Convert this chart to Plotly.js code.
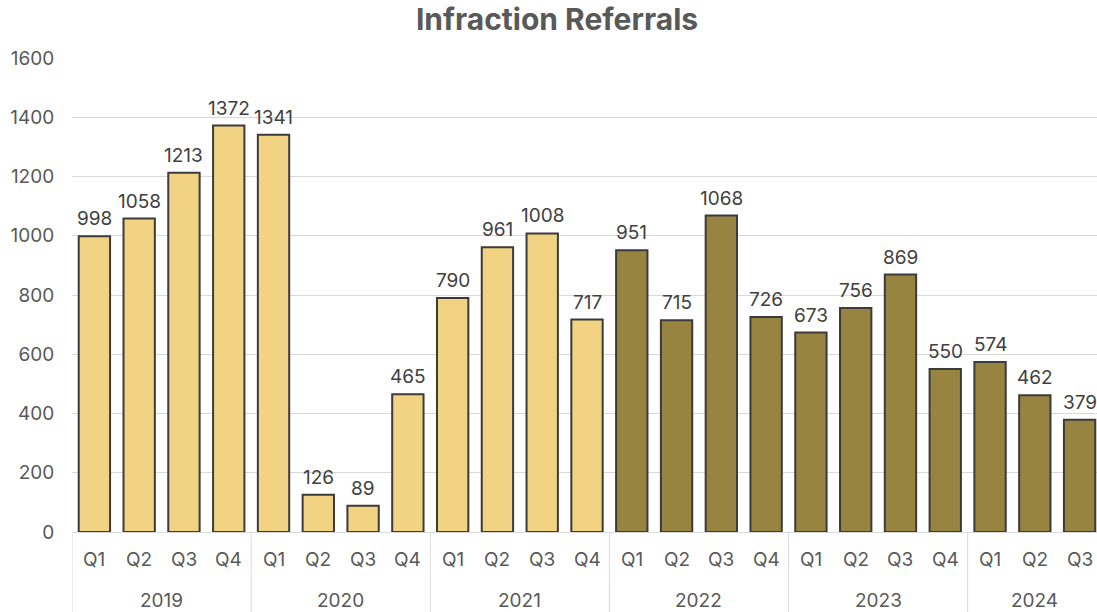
<!DOCTYPE html>
<html><head><meta charset="utf-8">
<script src="https://cdn.plot.ly/plotly-3.0.1.min.js"></script>
<style>html,body{margin:0;padding:0;overflow:hidden;background:#fff}</style>
</head><body><div id="chart"></div>
<script>
const years = ["2019","2019","2019","2019","2020","2020","2020","2020","2021","2021","2021","2021","2022","2022","2022","2022","2023","2023","2023","2023","2024","2024","2024"];
const quarters = ["Q1","Q2","Q3","Q4","Q1","Q2","Q3","Q4","Q1","Q2","Q3","Q4","Q1","Q2","Q3","Q4","Q1","Q2","Q3","Q4","Q1","Q2","Q3"];
const referrals = [998,1058,1213,1372,1341,126,89,465,790,961,1008,717,951,715,1068,726,673,756,869,550,574,462,379];
const lightYears = ["2019","2020","2021"];
const lightColor = "#F2D384";
const darkColor = "#978441";

const FONT = "Inter, 'Open Sans', Arial, sans-serif";
const colors = years.map(y => lightYears.includes(y) ? lightColor : darkColor);
const cats = years.map((y, i) => y + " " + quarters[i]);

const trace = {
  type: "bar",
  x: cats,
  y: referrals,
  marker: {color: colors, line: {color: "#3b3b3b", width: 2}},
  cliponaxis: false,
  hoverinfo: "none"
};

const annotations = [];
const shapes = [];
// value labels above bars
referrals.forEach((v, i) => {
  annotations.push({x: i, xref: "x", y: v, yref: "y", text: String(v), showarrow: false,
    xanchor: "center", yanchor: "bottom", yshift: 4,
    font: {family: FONT, size: 19, color: "#404040"}});
});
// hierarchical axis labels
quarters.forEach((q, i) => {
  annotations.push({x: i, xref: "x", y: -0.059, yref: "paper", text: q, showarrow: false,
    xanchor: "center", yanchor: "middle", font: {family: FONT, size: 19, color: "#595959"}});
});
const uniqueYears = [...new Set(years)];
uniqueYears.forEach(y => {
  const first = years.indexOf(y), last = years.lastIndexOf(y);
  annotations.push({x: (first + last) / 2, xref: "x", y: -0.1435, yref: "paper", text: y, showarrow: false,
    xanchor: "center", yanchor: "middle", font: {family: FONT, size: 19, color: "#595959"}});
  shapes.push({type: "line", xref: "x", yref: "paper", x0: first - 0.5, x1: first - 0.5, y0: 0, y1: -0.17,
    line: {color: "#d9d9d9", width: 1}});
});
shapes.push({type: "line", xref: "x", yref: "paper", x0: years.length - 0.5, x1: years.length - 0.5, y0: 0, y1: -0.17,
  line: {color: "#d9d9d9", width: 1}});

const layout = {
  width: 1104, height: 612,
  margin: {l: 72, r: 2, t: 58, b: 80},
  paper_bgcolor: "#fff", plot_bgcolor: "#fff",
  bargap: 0.3,
  showlegend: false,
  title: {text: "<b>Infraction Referrals</b>", x: 557 / 1104, xref: "container", xanchor: "center",
          y: 1 - 19 / 612, yanchor: "middle",
          font: {family: FONT, size: 30, color: "#595959"}},
  xaxis: {
    type: "category",
    showticklabels: false,
    showline: true, linecolor: "#d9d9d9", linewidth: 1,
    ticks: "", showgrid: false,
    range: [-0.5, years.length - 0.5]
  },
  yaxis: {
    range: [0, 1600], dtick: 200,
    tickfont: {family: FONT, size: 19, color: "#595959"},
    gridcolor: "#d9d9d9", gridwidth: 1,
    zeroline: false,
    ticks: "outside", ticklen: 13, tickcolor: "rgba(0,0,0,0)"
  },
  annotations: annotations,
  shapes: shapes
};

Plotly.newPlot("chart", [trace], layout, {displayModeBar: false, staticPlot: true});
</script></body></html>
